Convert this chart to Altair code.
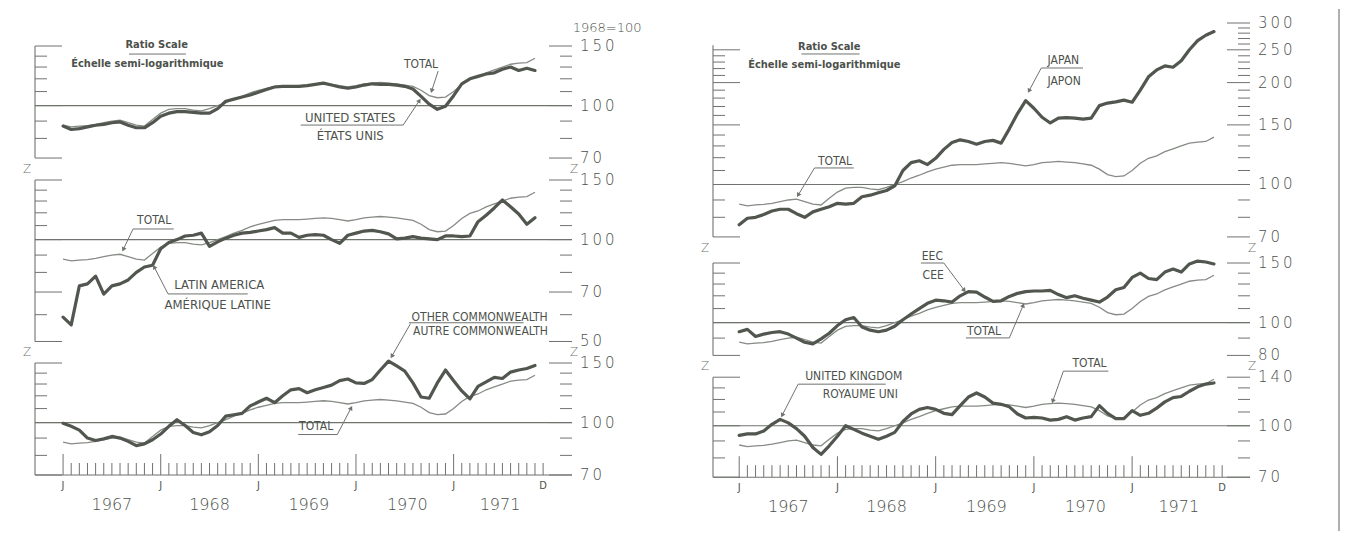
import math
import altair as alt
import pandas as pd

# ---------------- data: monthly, Jan 1967 .. Nov 1971, 1968 = 100 ----------------
months = list(range(59))

total = [87.5, 86.5, 87, 87.3, 88, 89, 90, 90.5, 89, 87.5,
         87, 91, 95, 97.5, 98, 98, 97, 96.5, 98, 100,
         102, 104.5, 106.5, 109, 111, 112.5, 114, 114.5, 114.5, 114.5,
         115, 115.5, 116, 115.5, 114.5, 113.5, 114.5, 116, 116.5, 117,
         116.5, 116, 115, 114, 111, 107, 105.5, 106, 110, 115.5,
         119.5, 121.5, 125, 127.5, 130, 132.5, 133.5, 134, 138]

united_states = [87, 85, 85.5, 86.5, 87.5, 88, 89, 89.5, 87.5, 86,
                 86, 89, 93, 95, 96, 96, 95.5, 95, 95, 98,
                 103, 104.5, 106, 107.5, 109.5, 111.5, 113.5, 114, 114, 114,
                 114.5, 115.5, 116.5, 115, 113.5, 112.5, 113.5, 115, 116, 115.5,
                 115.5, 115, 114, 112, 106.5, 101, 97.5, 99.5, 107, 116,
                 120, 122, 124, 125, 128, 130, 127, 129, 127]

latin_america = [59, 56, 73, 74, 78, 69, 73, 74, 76, 80,
                 83, 84, 94, 98, 100, 102.5, 103, 104.5, 95.5, 98.5,
                 101, 103, 104.5, 105, 106, 107, 108.5, 104.5, 104.5, 101.5,
                 103, 103.5, 103, 100, 97.5, 103, 104.5, 106, 106.5, 105.5,
                 104, 100.5, 101, 102, 101, 100.5, 100, 102.5, 102.5, 102,
                 102.5, 113, 118, 124, 131, 125, 119, 111, 116]

other_commonwealth = [99.5, 97.5, 95, 90, 88.5, 89.5, 91, 90, 88, 85.5,
                      86.5, 89, 92.5, 97.5, 102, 98, 93.5, 92, 94, 98,
                      104.5, 105.5, 106.5, 112, 115, 118, 114.5, 120, 125, 126,
                      122.5, 125, 127, 129, 133, 134.5, 131, 130.5, 134, 143,
                      152, 147, 142, 131, 119, 118, 131, 143, 133, 124,
                      117.5, 128, 132, 136, 135, 141, 143, 144.5, 147.5]

japan = [76, 79.5, 80, 81.5, 83.5, 84.5, 84.5, 82, 80, 83,
         84.5, 86, 88, 87.5, 88, 92, 93, 94.5, 96, 99,
         110, 116, 117.5, 114.5, 119.5, 127, 133, 135.5, 134, 131.5,
         134, 135, 132.5, 146, 162, 177, 168, 158, 152, 157,
         157.5, 157, 156, 157, 171, 174, 175.5, 177.5, 175, 190,
         208, 218, 224, 222, 232, 250, 266, 276, 283]

eec = [94, 95.5, 91, 92.5, 93.5, 94, 92.5, 90, 87.5, 86.5,
       89.5, 93, 98, 102, 103.5, 97, 95, 94, 95, 97.5,
       102, 106, 110, 114, 116.5, 116, 115, 120, 123.5, 123,
       119, 115.5, 116, 119.5, 122, 123.5, 124, 124, 124.5, 121,
       118.5, 120, 118, 116.5, 115, 119, 125, 127, 136, 140,
       135, 134, 141, 144, 141, 149, 152, 151, 149]

united_kingdom = [93.5, 94.5, 94.5, 96.5, 101, 104.5, 102, 98, 93, 86,
                  82, 87, 93, 100, 97.5, 95, 93, 91, 93, 95.5,
                  103, 108.5, 112, 113.5, 112, 109, 108, 115, 122, 125.5,
                  122, 117, 116, 114, 108.5, 105.5, 106, 105.5, 104, 104.5,
                  106.5, 104, 105.5, 106.5, 115, 109, 105, 105, 111, 107.5,
                  109, 113, 118, 121.5, 122.5, 127, 131, 133.5, 134.5]

month_ticks = list(range(60))
month_letters = ["J", "J", "J", "J", "J", "D"]
month_letter_pos = [0, 12, 24, 36, 48, 59]
years = ["1967", "1968", "1969", "1970", "1971"]
year_pos = [6, 18, 30.2, 42.3, 53.7]

# ---------------- style ----------------
W = 537
DARK = "#51564f"
THIN = "#868b85"
AXC = "#6f736e"
TXT = "#4c514b"
NUMFONT = "DejaVu Sans"
LBLFONT = "DejaVu Sans Condensed, Liberation Sans Narrow, DejaVu Sans"
THINSP = "\u2009"

XDOM_L = [-3.45, 62.55]
XDOM_R = [-3.2, 62.4]
K = 147.0  # pixels per natural-log unit


def build(series, xdom, lo, hi, h, ticks, labels, left_top, texts, leaders,
          bottom=False, gap=None, frame_line=False, top_pad=False):
    xs = alt.Scale(domain=xdom, nice=False, zero=False)
    ys = alt.Scale(type="log", domain=[lo, hi], nice=False, zero=False)

    def X(f):
        return alt.X(f, type="quantitative", scale=xs, axis=None)

    def Y(f):
        return alt.Y(f, type="quantitative", scale=ys, axis=None)

    def to_px(m, v):
        x = (m - xdom[0]) / (xdom[1] - xdom[0]) * W
        y = h * (math.log(hi) - math.log(v)) / (math.log(hi) - math.log(lo))
        return x, y

    layers = []
    # 100 reference line
    layers.append(alt.Chart(pd.DataFrame({"v": [100]})).mark_rule(
        color=AXC, strokeWidth=1.1).encode(y=Y("v")))
    # left axis line
    layers.append(alt.Chart(pd.DataFrame({"a": [lo], "b": [left_top]})).mark_rule(
        color=AXC, strokeWidth=1.1).encode(y=Y("a"), y2=alt.Y2("b"), x=alt.value(0)))
    major = [t for t in ticks if t in labels]
    minor = [t for t in ticks if t not in labels]
    lmaj = [t for t in major if t <= left_top]
    lmin = [t for t in minor if t <= left_top]
    for vals, x0, x1 in [(lmaj, 0, 27), (lmin, 0, 12), (major, W - 23, W), (minor, W - 12, W)]:
        layers.append(alt.Chart(pd.DataFrame({"v": vals})).mark_rule(
            color=AXC, strokeWidth=1.0).encode(y=Y("v"), x=alt.value(x0), x2=alt.value(x1)))
    # right-hand scale labels
    lab_txt = [THINSP.join(str(int(v))) for v in labels]
    layers.append(alt.Chart(pd.DataFrame({"v": labels, "t": lab_txt})).mark_text(
        align="left", baseline="middle", font=NUMFONT, fontSize=15, fontWeight=300,
        color=TXT).encode(y=Y("v"), x=alt.value(W + 8), text="t:N"))
    # series
    layers.append(alt.Chart(pd.DataFrame({"m": months, "v": total})).mark_line(
        color=THIN, strokeWidth=1.3).encode(x=X("m"), y=Y("v")))
    layers.append(alt.Chart(pd.DataFrame({"m": months, "v": series})).mark_line(
        color=DARK, strokeWidth=3.2, strokeJoin="round", strokeCap="round").encode(x=X("m"), y=Y("v")))
    # leaders and arrowheads
    rows, tips = [], []
    for gi, (pts, arrow) in enumerate(leaders):
        for oi, (m, v) in enumerate(pts):
            rows.append({"g": gi, "o": oi, "m": m, "v": v})
        if arrow:
            (ma, va), (mb, vb) = pts[-2], pts[-1]
            xa, ya = to_px(ma, va)
            xb, yb = to_px(mb, vb)
            ang = math.degrees(math.atan2(xb - xa, -(yb - ya))) % 360
            tips.append({"m": mb, "v": vb, "ang": ang})
    if rows:
        layers.append(alt.Chart(pd.DataFrame(rows)).mark_line(
            color=AXC, strokeWidth=1.0).encode(x=X("m"), y=Y("v"), detail="g:N", order="o:Q"))
    if tips:
        layers.append(alt.Chart(pd.DataFrame(tips)).mark_point(
            shape="triangle-up", filled=True, size=26, color=AXC, opacity=1).encode(
            x=X("m"), y=Y("v"), angle=alt.Angle("ang:Q", scale=None)))
    # annotation texts
    for t in texts:
        txt, m, v, align, size, weight = t
        font = NUMFONT if txt == "1968=100" else LBLFONT
        layers.append(alt.Chart(pd.DataFrame({"m": [m], "v": [v], "t": [txt]})).mark_text(
            align=align, baseline="middle", font=font, fontSize=size, fontWeight=weight,
            color=TXT).encode(x=X("m"), y=Y("v"), text="t:N"))
    # scale-break marks
    if gap is not None:
        for xv in (-8, W + 2):
            layers.append(alt.Chart(pd.DataFrame({"t": ["Z"]})).mark_text(
                font=NUMFONT, fontSize=12, fontWeight=300, color=AXC).encode(
                x=alt.value(xv), y=alt.value(h + gap / 2), text="t:N"))
    # bottom time axis
    if bottom:
        layers.append(alt.Chart(pd.DataFrame({"v": [lo]})).mark_rule(
            color=AXC, strokeWidth=1.1).encode(y=Y("v")))
        reg = [m for m in month_ticks if m % 12 != 0]
        jan = [m for m in month_ticks if m % 12 == 0]
        layers.append(alt.Chart(pd.DataFrame({"m": reg})).mark_rule(
            color=AXC, strokeWidth=1.0).encode(x=X("m"), y=alt.value(h - 12), y2=alt.value(h)))
        layers.append(alt.Chart(pd.DataFrame({"m": jan})).mark_rule(
            color=AXC, strokeWidth=1.0).encode(x=X("m"), y=alt.value(h - 21), y2=alt.value(h)))
        layers.append(alt.Chart(pd.DataFrame({"m": month_letter_pos, "t": month_letters})).mark_text(
            font=LBLFONT, fontSize=11, color=TXT).encode(x=X("m"), y=alt.value(h + 11), text="t:N"))
        layers.append(alt.Chart(pd.DataFrame({"m": year_pos, "t": years})).mark_text(
            font=NUMFONT, fontSize=16, fontWeight=300, color=TXT).encode(
            x=X("m"), y=alt.value(h + 30), text="t:N"))
    if frame_line:
        layers.append(alt.Chart(pd.DataFrame({"t": [0]})).mark_rule(
            color="#9a9d99", strokeWidth=1.6).encode(
            x=alt.value(626), y=alt.value(-14), y2=alt.value(508)))
    if top_pad:
        layers.append(alt.Chart(pd.DataFrame({"t": [0]})).mark_rule(
            color="white", strokeOpacity=0, strokeWidth=1).encode(
            x=alt.value(2), y=alt.value(-14), y2=alt.value(0)))
    return alt.layer(*layers).properties(width=W, height=h)


B = 600
N = "normal"

L1_HI = 150 * math.exp(23 / K)
L1 = build(united_states, XDOM_L, 70, L1_HI, K * math.log(L1_HI / 70),
           [70, 80, 90, 100, 110, 120, 130, 140, 150], [70, 100, 150], 150,
           [("Ratio Scale", 11.5, 151, "center", 11, B),
            ("Échelle semi-logarithmique", 1.0, 132.7, "left", 11, B),
            ("1968=100", 71.1, 169.5, "right", 13, 300),
            ("TOTAL", 44.0, 132.7, "center", 12, N),
            ("UNITED STATES", 35.3, 91.9, "center", 13, N),
            ("ÉTATS UNIS", 35.3, 81.3, "center", 13, N)],
           [([(8.1, 142), (15.1, 142)], False),
            ([(46.1, 126.5), (45.3, 110.5)], True),
            ([(29.2, 87.6), (41.8, 87.6), (43.8, 103.5)], True)],
           gap=21, top_pad=True)

L2 = build(latin_america, XDOM_L, 50, 150, K * math.log(3),
           [50, 60, 70, 80, 90, 100, 110, 120, 130, 140, 150], [50, 70, 100, 150], 150,
           [("TOTAL", 11.2, 114.3, "center", 12, N),
            ("LATIN AMERICA", 19.2, 73.4, "center", 13, N),
            ("AMÉRIQUE LATINE", 19.0, 64.1, "center", 13, N),
            ("OTHER COMMONWEALTH", 51.2, 59.1, "center", 12, N),
            ("AUTRE COMMONWEALTH", 51.3, 53.7, "center", 12, N)],
           [([(13.6, 107.5), (8.6, 107.5), (7.4, 93.5)], True),
            ([(22.7, 69.1), (12.9, 69.1), (11.2, 83)], True),
            ([(42.5, 56.8), (56.6, 56.8)], False)],
           gap=21)

L3 = build(other_commonwealth, XDOM_L, 70, 150, 112,
           [70, 80, 90, 100, 110, 120, 130, 140, 150], [70, 100, 150], 150,
           [("TOTAL", 31.1, 98, "center", 12, N)],
           [([(28.9, 92.2), (33.7, 92.2), (35.4, 110.5)], True),
            ([(42.7, 196), (40.4, 157)], True)],
           bottom=True)

R1 = build(japan, XDOM_R, 70, 300, K * math.log(300 / 70),
           [70, 80, 90] + list(range(100, 301, 10)), [70, 100, 150, 200, 250, 300], 258,
           [("Ratio Scale", 11.0, 254.8, "center", 11, B),
            ("Échelle semi-logarithmique", 1.1, 225, "left", 11, B),
            ("JAPAN", 39.6, 233, "center", 12, N),
            ("JAPON", 39.7, 202, "center", 12, N),
            ("TOTAL", 11.7, 117.3, "center", 12, N)],
           [([(7.6, 243), (14.7, 243)], False),
            ([(42.0, 220.9), (36.9, 220.9), (35.4, 189)], True),
            ([(14.0, 111.9), (9.2, 111.9), (7.2, 93)], True)],
           gap=21.6, frame_line=True)

R2_HI = 150 * math.exp(4.4 / K)
R2 = build(eec, XDOM_R, 80, R2_HI, K * math.log(R2_HI / 80),
           [80, 90, 100, 110, 120, 130, 140, 150], [80, 100, 150], 150,
           [("EEC", 23.6, 157.3, "center", 12, N),
            ("CEE", 23.7, 138.2, "center", 12, N),
            ("TOTAL", 29.9, 94.4, "center", 12, N)],
           [([(22.2, 150), (25.0, 150), (27.5, 124.5)], True),
            ([(27.7, 90.1), (33.0, 90.1), (34.7, 112.5)], True)],
           gap=21.6)

R3 = build(united_kingdom, XDOM_R, 70, 140, 100,
           [70, 80, 90, 100, 110, 120, 130, 140], [70, 100, 140], 140,
           [("TOTAL", 42.8, 154.3, "center", 12, N),
            ("UNITED KINGDOM", 14.0, 141, "center", 12, N),
            ("ROYAUME UNI", 14.8, 124.5, "center", 12, N)],
           [([(45.1, 146), (39.6, 146), (38.3, 118.5)], True),
            ([(17.9, 133.4), (7.2, 133.4), (5.25, 107.5)], True)],
           bottom=True)

left = alt.vconcat(L1, L2, L3, spacing=21, bounds="flush")
right = alt.vconcat(R1, R2, R3, spacing=21.6, bounds="flush")

chart = alt.hconcat(left, right, spacing=58).properties(
    padding={"left": 14, "top": 0, "right": 4, "bottom": 4},
    background="white",
).configure_view(stroke=None)

chart.save("out.html", embed_options={"renderer": "svg", "actions": False})
